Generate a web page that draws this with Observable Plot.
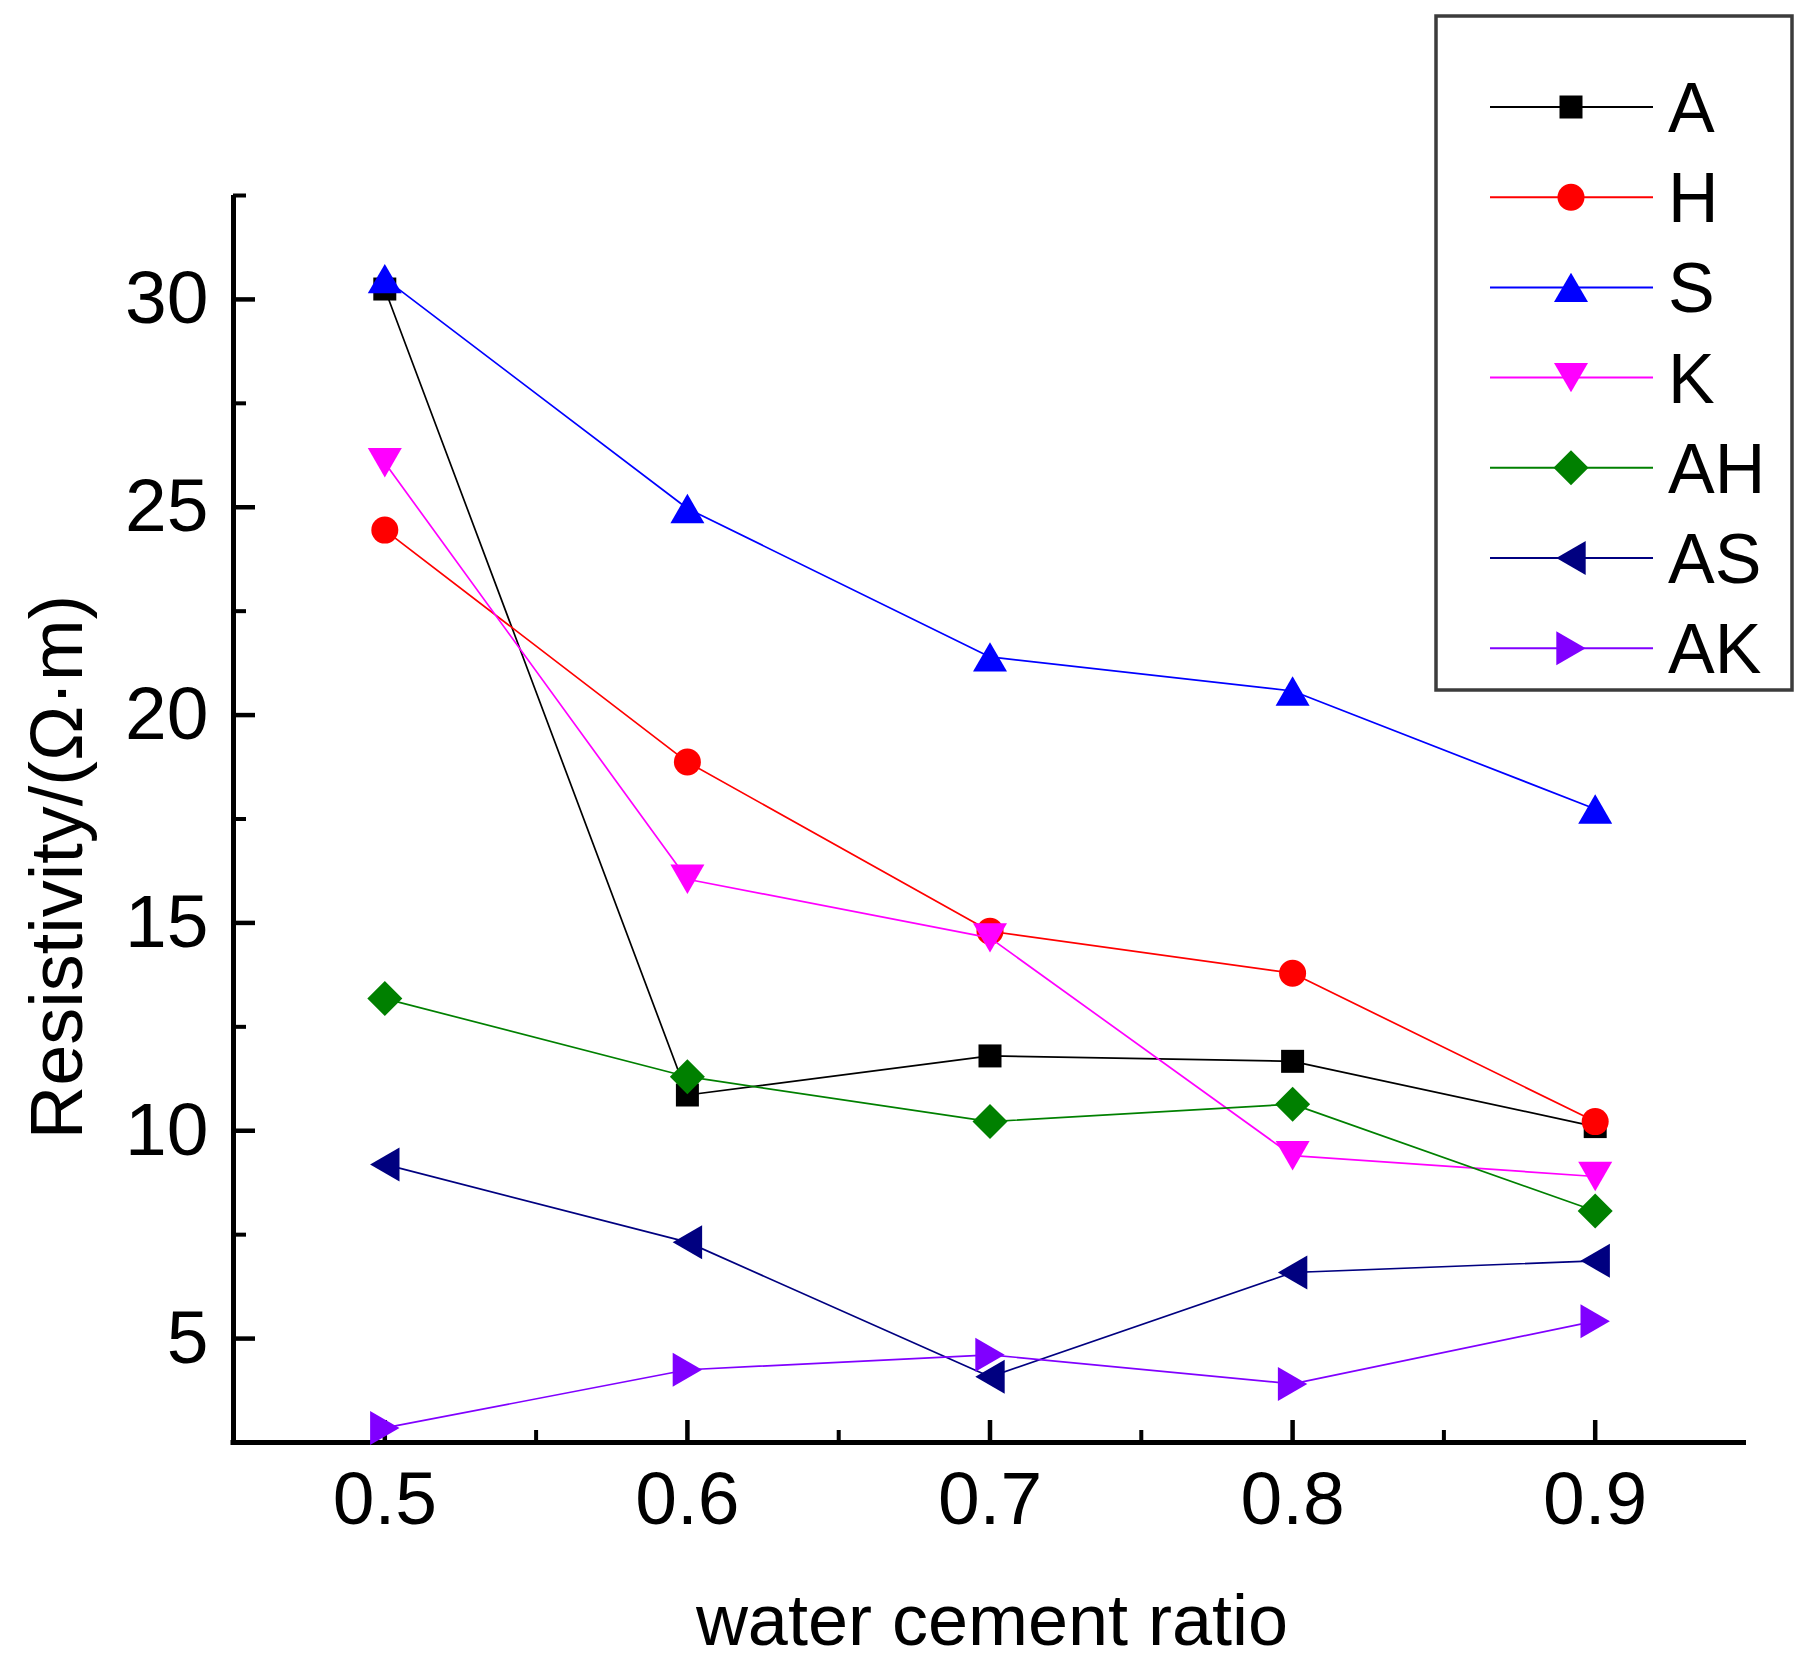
<!DOCTYPE html>
<html>
<head>
<meta charset="utf-8">
<script src="https://cdn.jsdelivr.net/npm/d3@7"></script>
<script src="https://cdn.jsdelivr.net/npm/@observablehq/plot@0.6"></script>
<style>
  html, body { margin: 0; padding: 0; background: #ffffff; }
  #chart { position: relative; width: 1820px; height: 1676px; background: #ffffff; }
  #chart > svg { position: absolute; left: 0; top: 0; }
</style>
</head>
<body>
<div id="chart"></div>
<script>
// ---- data ----
const waterCementRatio = [0.5, 0.6, 0.7, 0.8, 0.9];
const seriesNames  = ["A", "H", "S", "K", "AH", "AS", "AK"];
const seriesColors = ["#000000", "#ff0000", "#0000ff", "#ff00ff", "#008000", "#000080", "#8000ff"];
const valuesA  = [30.25, 10.86, 11.80, 11.67, 10.10];
const valuesH  = [24.45, 18.87, 14.80, 13.79, 10.22];
const valuesS  = [30.50, 24.97, 21.40, 20.58, 17.74];
const valuesK  = [26.07, 16.05, 14.64,  9.40,  8.90];
const valuesAH = [13.18, 11.30, 10.22, 10.64,  8.07];
const valuesAS = [ 9.19,  7.32,  4.08,  6.59,  6.87];
const valuesAK = [ 2.85,  4.25,  4.61,  3.91,  5.42];
const seriesValues = [valuesA, valuesH, valuesS, valuesK, valuesAH, valuesAS, valuesAK];

const xDomain = [0.45, 0.95];
const yDomain = [2.5, 32.5];
const xMajorTicks = [0.5, 0.6, 0.7, 0.8, 0.9];
const xMinorTicks = [0.55, 0.65, 0.75, 0.85];
const yMajorTicks = [5, 10, 15, 20, 25, 30];
const yMinorTicks = [7.5, 12.5, 17.5, 22.5, 27.5, 32.5];
const xTitle = "water cement ratio";
const yTitle = "Resistivity/(\u03A9\u00B7m)";

// ---- symbols ----
const R0 = 13.5;
function polySymbol(pts) {
  return {
    draw(ctx, size) {
      const k = Math.sqrt(size / Math.PI) / R0;
      ctx.moveTo(pts[0][0] * k, pts[0][1] * k);
      for (let i = 1; i < pts.length; i++) ctx.lineTo(pts[i][0] * k, pts[i][1] * k);
      ctx.closePath();
    }
  };
}
const th = 14.7, tw = 17;
const seriesSymbols = [
  polySymbol([[-11.5, -11.5], [11.5, -11.5], [11.5, 11.5], [-11.5, 11.5]]), // square
  d3.symbolCircle,                                                          // circle
  polySymbol([[0, -th], [tw, th], [-tw, th]]),                               // up triangle
  polySymbol([[0, th], [tw, -th], [-tw, -th]]),                              // down triangle
  polySymbol([[0, -17.5], [17.5, 0], [0, 17.5], [-17.5, 0]]),                // diamond
  polySymbol([[-th, 0], [th, -tw], [th, tw]]),                               // left triangle
  polySymbol([[th, 0], [-th, -tw], [-th, tw]])                               // right triangle
];

// ---- layout ----
const W = 1820, H = 1676;
const mL = 233, mR = 74, mT = 195, mB = 234;
const frameW = W - mL - mR, frameH = H - mT - mB;
const FONT = "'Liberation Sans', Arial, Helvetica, sans-serif";

const marks = [];
seriesNames.forEach((name, i) => {
  const rows = waterCementRatio.map((x, j) => ({series: name, x, y: seriesValues[i][j]}));
  marks.push(Plot.line(rows, {x: "x", y: "y", stroke: seriesColors[i], strokeWidth: 1.7}));
  marks.push(Plot.dot(rows, {x: "x", y: "y", symbol: seriesSymbols[i], r: R0, fill: seriesColors[i], stroke: "none"}));
});

const chart = Plot.plot({
  width: W,
  height: H,
  marginLeft: mL, marginRight: mR, marginTop: mT, marginBottom: mB,
  x: {domain: xDomain},
  y: {domain: yDomain},
  style: {fontFamily: FONT, background: "transparent", color: "black", overflow: "visible"},
  marks: [
    // inward ticks
    Plot.tickX(xMajorTicks, {x: d => d, insetTop: frameH - 22, stroke: "black", strokeWidth: 4.5}),
    Plot.tickX(xMinorTicks, {x: d => d, insetTop: frameH - 12, stroke: "black", strokeWidth: 4}),
    Plot.tickY(yMajorTicks, {y: d => d, insetRight: frameW - 22, stroke: "black", strokeWidth: 4.5}),
    Plot.tickY(yMinorTicks, {y: d => d, insetRight: frameW - 13, stroke: "black", strokeWidth: 4}),
    // axis lines
    Plot.ruleY([yDomain[0]], {stroke: "black", strokeWidth: 5, insetLeft: -2.5}),
    Plot.ruleX([xDomain[0]], {stroke: "black", strokeWidth: 5}),
    // tick labels
    Plot.axisX({ticks: xMajorTicks, tickSize: 0, tickPadding: 28, tickFormat: d => d.toFixed(1), fontSize: 75, label: null}),
    Plot.axisY({ticks: yMajorTicks, tickSize: 0, tickPadding: 25, tickFormat: d => String(d), fontSize: 75, label: null}),
    // axis titles
    Plot.text([xTitle], {text: d => d, frameAnchor: "bottom", textAnchor: "middle", lineAnchor: "bottom", dx: 2, dy: 202, fontSize: 72, fill: "black"}),
    Plot.text([yTitle], {text: d => d, frameAnchor: "left", textAnchor: "middle", lineAnchor: "bottom", rotate: -90, dx: 81.5 - mL, dy: 48, fontSize: 74, fill: "black"}),
    ...marks
  ]
});

const container = document.getElementById("chart");
container.appendChild(chart);

// ---- legend (overlay) ----
const legend = d3.select(container).append("svg")
  .attr("width", W).attr("height", H)
  .style("position", "absolute").style("left", "0px").style("top", "0px")
  .style("pointer-events", "none");

legend.append("rect")
  .attr("x", 1436).attr("y", 16).attr("width", 356).attr("height", 674)
  .attr("fill", "#ffffff").attr("stroke", "#3c3c3c").attr("stroke-width", 3.5);

const rowY0 = 107, rowStep = 90.2;
seriesNames.forEach((name, i) => {
  const y = rowY0 + i * rowStep;
  const g = legend.append("g");
  g.append("line")
    .attr("x1", 1490).attr("x2", 1653).attr("y1", y).attr("y2", y)
    .attr("stroke", seriesColors[i]).attr("stroke-width", 2);
  g.append("path")
    .attr("transform", `translate(1571,${y})`)
    .attr("d", d3.symbol().type(seriesSymbols[i]).size(Math.PI * R0 * R0)())
    .attr("fill", seriesColors[i]);
  g.append("text")
    .attr("x", 1668).attr("y", y).attr("dy", "0.358em")
    .attr("font-family", FONT).attr("font-size", 70).attr("fill", "black")
    .text(name);
});
</script>
</body>
</html>
